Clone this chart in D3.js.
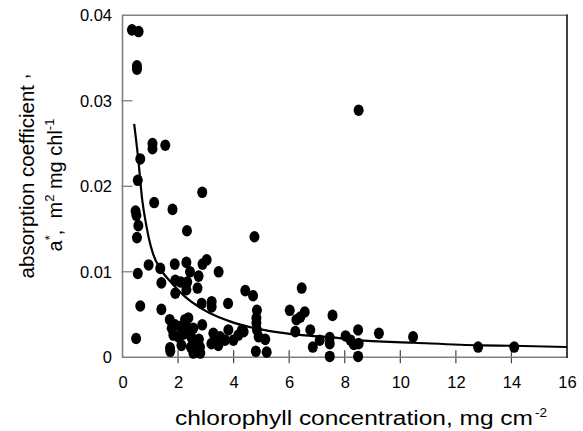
<!DOCTYPE html>
<html>
<head>
<meta charset="utf-8">
<script src="https://cdn.jsdelivr.net/npm/d3@7"></script>
<style>
  body { margin: 0; background: #fff; }
  svg { display: block; font-family: "Liberation Sans", Arial, Helvetica, sans-serif; }
</style>
</head>
<body>
<svg id="chart" width="583" height="431"></svg>
<script>
// chlorophyll concentration (mg cm-2) and a* (m2 mg chl-1)
const chlX = [
  0.34, 0.58, 0.52, 0.52, 1.08, 1.08, 1.54, 0.64, 0.55, 2.87,
  1.14, 1.80, 0.47, 0.50, 0.57, 2.32, 0.52, 4.75, 8.50,
  0.94, 0.55, 1.36, 1.88, 2.30, 2.88, 3.03, 3.46, 2.43, 2.74,
  1.90, 2.10, 1.40, 2.33, 2.30, 2.70, 1.90, 4.42, 4.70, 6.45,
  0.64, 1.40, 2.85, 3.21, 3.21, 3.80, 4.84, 4.82, 4.82, 4.84,
  6.02, 6.56, 6.40, 6.26, 7.56, 1.70,
  1.77, 1.89, 2.07, 2.25, 2.37, 2.31, 2.43, 2.55, 2.87, 1.83,
  2.01, 2.19, 2.49, 2.63, 2.75, 1.71, 1.72, 2.12, 2.46, 2.79,
  2.55, 2.80, 3.20, 3.33, 3.51, 3.69, 3.81, 3.99, 4.17, 3.45,
  0.49, 4.30, 3.27, 4.36, 4.90, 5.14, 4.80, 5.19, 6.22, 6.76,
  6.85, 7.10, 7.46, 7.46, 7.46, 8.03, 8.21, 8.33, 8.50, 8.48,
  8.48, 9.23, 10.46, 12.80, 14.10
];
const aStar = [
  0.0383, 0.0381, 0.0341, 0.0337, 0.0250, 0.0244, 0.0248, 0.0232, 0.0207, 0.0193,
  0.0181, 0.0173, 0.0171, 0.0166, 0.0154, 0.0148, 0.0140, 0.0141, 0.0289,
  0.0108, 0.0098, 0.0104, 0.0109, 0.0111, 0.0109, 0.0114, 0.0100, 0.0100, 0.0095,
  0.0090, 0.0088, 0.0087, 0.0088, 0.0079, 0.0081, 0.0075, 0.0078, 0.0072, 0.0081,
  0.0060, 0.0056, 0.0063, 0.0065, 0.0059, 0.0063, 0.0055, 0.0046, 0.0040, 0.0032,
  0.0055, 0.0053, 0.0047, 0.0044, 0.0049, 0.0044,
  0.0034, 0.0038, 0.0036, 0.0044, 0.0046, 0.0035, 0.0030, 0.0034, 0.0038, 0.0026,
  0.0024, 0.0027, 0.0023, 0.0016, 0.0021, 0.0011, 0.0007, 0.0014, 0.0012, 0.0012,
  0.0005, 0.0005, 0.0016, 0.0022, 0.0024, 0.0020, 0.0032, 0.0020, 0.0026, 0.0014,
  0.0022, 0.0032, 0.0028, 0.0030, 0.0024, 0.0021, 0.0007, 0.0006, 0.0030, 0.0032,
  0.0012, 0.0020, 0.0016, 0.0023, 0.0001, 0.0025, 0.0020, 0.0015, 0.0016, 0.0032,
  0.0001, 0.0028, 0.0024, 0.0012, 0.0012
];

// fitted curve
const curveX = [0.42, 0.57, 0.71, 0.87, 0.95, 1.11, 1.35, 1.77, 2.25, 2.85, 3.45, 4.05, 5.26, 6.46, 7.66, 8.40, 10.49, 12.89, 14.03, 16.0];
const curveY = [0.0273, 0.0231, 0.0184, 0.0152, 0.0139, 0.0120, 0.0104, 0.0087, 0.0071, 0.0057, 0.0047, 0.0040, 0.0031, 0.0026, 0.0023, 0.0020, 0.0017, 0.0014, 0.00135, 0.0012];

const xTicks = [0, 2, 4, 6, 8, 10, 12, 14, 16];
const xTickMarks = [2, 4, 6, 8, 10, 12, 14];
const yTicks = [0, 0.01, 0.02, 0.03, 0.04];
const yTickMarks = [0.01, 0.02, 0.03];
const yTickLabels = ["0", "0.01", "0.02", "0.03", "0.04"];

const svg = d3.select("#chart"),
  width = +svg.attr("width"),
  height = +svg.attr("height");

const margin = { top: 15.3, right: 16, bottom: 73.7, left: 122.5 };

const x = d3.scaleLinear().domain([0, 16]).range([margin.left, width - margin.right]);
const y = d3.scaleLinear().domain([0, 0.04]).range([height - margin.bottom, margin.top]);

const x0 = x.range()[0], x1 = x.range()[1];
const y0 = y.range()[0], y1 = y.range()[1];

// x axis: labels + ticks that cross the baseline
const xAxis = svg.append("g")
  .attr("transform", `translate(0,${y0})`)
  .call(d3.axisBottom(x).tickValues(xTicks).tickFormat(d3.format("d")).tickSize(0));
xAxis.select(".domain").remove();
xAxis.selectAll("text")
  .attr("y", 31).attr("dy", 0)
  .style("font-size", "16.5px").attr("fill", "#000");

svg.append("g")
  .selectAll("line")
  .data(xTickMarks)
  .join("line")
  .attr("x1", d => x(d)).attr("x2", d => x(d))
  .attr("y1", y0 - 7).attr("y2", y0 + 6)
  .attr("stroke", "#444").attr("stroke-width", 1.2);

// y axis: labels + inward ticks
const yAxis = svg.append("g")
  .attr("transform", `translate(${x0},0)`)
  .call(d3.axisLeft(y).tickValues(yTicks).tickFormat((d, i) => yTickLabels[i]).tickSize(0).tickPadding(10.5));
yAxis.select(".domain").remove();
yAxis.selectAll("text")
  .style("font-size", "16.5px").attr("fill", "#000");

svg.append("g")
  .selectAll("line")
  .data(yTickMarks)
  .join("line")
  .attr("x1", x0 - 1).attr("x2", x0 + 10)
  .attr("y1", d => y(d)).attr("y2", d => y(d))
  .attr("stroke", "#777").attr("stroke-width", 1.2);

// frame
const frame = svg.append("g").attr("fill", "none");
frame.append("path").attr("d", `M${x1},${y1}H${x0}V${y0}H${x1}`)
  .attr("stroke", "#808080").attr("stroke-width", 1.6);
frame.append("line")
  .attr("x1", x1).attr("x2", x1).attr("y1", y1 - 0.8).attr("y2", y0 + 0.8)
  .attr("stroke", "#000").attr("stroke-width", 1.5);

// data points
svg.append("g")
  .selectAll("ellipse")
  .data(chlX.map((d, i) => [d, aStar[i]]))
  .join("ellipse")
  .attr("cx", d => x(d[0]))
  .attr("cy", d => y(d[1]))
  .attr("rx", 5)
  .attr("ry", 5.8)
  .attr("fill", "#000");

// fitted curve
const line = d3.line()
  .x(d => x(d[0]))
  .y(d => y(d[1]))
  .curve(d3.curveMonotoneX);

svg.append("path")
  .datum(curveX.map((d, i) => [d, curveY[i]]))
  .attr("d", line)
  .attr("fill", "none")
  .attr("stroke", "#000")
  .attr("stroke-width", 2.2);

// x title
svg.append("text")
  .attr("x", 175).attr("y", 425)
  .attr("textLength", 358).attr("lengthAdjust", "spacingAndGlyphs")
  .style("font-size", "20px")
  .text("chlorophyll concentration, mg cm");
svg.append("text")
  .attr("x", 535).attr("y", 416.5)
  .style("font-size", "13.5px")
  .text("-2");

// y title, two rotated lines
const t1 = svg.append("text")
  .attr("transform", "translate(33.5,176) rotate(-90)")
  .attr("text-anchor", "middle")
  .style("font-size", "20.5px");
t1.append("tspan").text("absorption coefficient ");
t1.append("tspan").attr("dy", -6).text(",");

const t2 = svg.append("text")
  .attr("transform", "translate(61.5,185) rotate(-90)")
  .attr("text-anchor", "middle")
  .style("font-size", "20px");
t2.append("tspan").text("a");
t2.append("tspan").attr("dy", -8).style("font-size", "13px").text("*");
t2.append("tspan").attr("dy", 8).text(",\u00a0\u00a0m");
t2.append("tspan").attr("dy", -8).style("font-size", "13px").text("2");
t2.append("tspan").attr("dy", 8).text(" mg chl");
t2.append("tspan").attr("dy", -8).style("font-size", "13px").text("-1");
</script>
</body>
</html>
